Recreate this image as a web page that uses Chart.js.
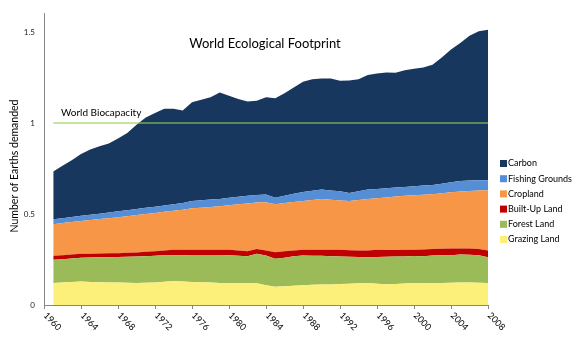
<!DOCTYPE html>
<html>
<head>
<meta charset="utf-8">
<script src="https://cdn.jsdelivr.net/npm/chart.js"></script>
<style>
  body { margin: 0; background: #fff; }
  #wrap { width: 582px; height: 344px; }
</style>
</head>
<body>
<div id="wrap"><canvas id="footprint" width="582" height="344"></canvas></div>
<script>
// years with data (the axis itself starts at 1960)
const years = [1961, 1962, 1963, 1964, 1965, 1966, 1967, 1968, 1969, 1970,
    1971, 1972, 1973, 1974, 1975, 1976, 1977, 1978, 1979, 1980,
    1981, 1982, 1983, 1984, 1985, 1986, 1987, 1988, 1989, 1990,
    1991, 1992, 1993, 1994, 1995, 1996, 1997, 1998, 1999, 2000,
    2001, 2002, 2003, 2004, 2005, 2006, 2007, 2008]
const tickYears = [1960, 1964, 1968, 1972, 1976, 1980, 1984, 1988, 1992, 1996, 2000, 2004, 2008]
const yTicks = [0, 0.5, 1, 1.5]

// number of Earths, per land type
const grazingLand = [.121, .123, .126, .129, .127, .125, .124, .123, .122, .121,
    .122, .124, .128, .130, .129, .127, .125, .123, .121, .121,
    .121, .121, .120, .108, .100, .103, .106, .109, .111, .112,
    .113, .115, .117, .119, .121, .117, .114, .116, .118, .119,
    .120, .121, .121, .122, .123, .123, .122, .121]
const forestLand = [.127, .129, .130, .130, .134, .137, .139, .141, .143, .145,
    .146, .146, .145, .144, .145, .148, .150, .152, .154, .153,
    .150, .147, .161, .164, .154, .157, .162, .163, .160, .158,
    .155, .151, .148, .145, .142, .147, .151, .150, .149, .150,
    .148, .151, .152, .152, .154, .153, .151, .142]
const builtUpLand = [.022, .022, .022, .022, .021, .021, .021, .021, .022, .023,
    .024, .026, .027, .029, .029, .028, .029, .029, .029, .029,
    .028, .027, .027, .028, .036, .035, .032, .032, .033, .034,
    .035, .037, .036, .036, .036, .039, .037, .036, .036, .035,
    .037, .036, .036, .036, .034, .035, .035, .036]
const cropland = [.174, .176, .178, .181, .185, .189, .193, .197, .201, .205,
    .208, .210, .212, .215, .221, .228, .231, .235, .239, .245,
    .254, .263, .255, .265, .263, .265, .266, .267, .273, .279,
    .275, .271, .270, .277, .284, .284, .289, .294, .297, .299,
    .301, .301, .305, .309, .313, .316, .321, .331]
const fishingGrounds = [.027, .027, .028, .028, .029, .030, .031, .033, .033, .033,
    .034, .034, .035, .036, .037, .040, .040, .040, .040, .041,
    .042, .042, .041, .042, .036, .040, .045, .050, .051, .051,
    .051, .051, .045, .048, .051, .051, .050, .049, .049, .049,
    .050, .051, .052, .055, .057, .057, .056, .055]
const carbon = [.263, .288, .311, .340, .359, .370, .380, .400, .424, .463,
    .496, .515, .531, .524, .508, .543, .553, .562, .585, .561,
    .537, .518, .518, .534, .547, .563, .584, .605, .613, .610,
    .616, .607, .618, .615, .630, .634, .636, .631, .641, .646,
    .649, .660, .694, .730, .759, .796, .819, .828]
const worldBiocapacity = 1

const series = [
    { label: 'Grazing Land', values: grazingLand, color: '#fcf07a' },
    { label: 'Forest Land', values: forestLand, color: '#9bbb59' },
    { label: 'Built-Up Land', values: builtUpLand, color: '#c00000' },
    { label: 'Cropland', values: cropland, color: '#f79646' },
    { label: 'Fishing Grounds', values: fishingGrounds, color: '#558ed5' },
    { label: 'Carbon', values: carbon, color: '#17375e' }
]

const font = 'Lato, "Open Sans", sans-serif'

const datasets = series.map((s, i) => ({
    label: s.label,
    data: years.map((yr, j) => ({ x: yr, y: s.values[j] })),
    backgroundColor: s.color,
    borderColor: s.color,
    borderWidth: 0,
    pointRadius: 0,
    fill: i === 0 ? 'origin' : '-1',
    tension: 0
}))

datasets.push({
    label: 'World Biocapacity',
    data: [{ x: years[0], y: worldBiocapacity }, { x: years[years.length - 1], y: worldBiocapacity }],
    stack: 'bio',
    borderColor: 'rgba(146, 208, 80, 0.55)',
    borderWidth: 2,
    pointRadius: 0,
    fill: false,
    order: -1
})

// text that Excel put on the chart: axis labels, title, legend
const overlay = {
    id: 'overlay',
    afterDraw(chart) {
        const ctx = chart.ctx
        const xs = chart.scales.x
        const ys = chart.scales.y
        ctx.save()

        // rotated year labels
        ctx.fillStyle = '#000'
        ctx.font = '9px ' + font
        ctx.textAlign = 'left'
        ctx.textBaseline = 'middle'
        tickYears.forEach(yr => {
            ctx.save()
            ctx.translate(xs.getPixelForValue(yr) + 1, xs.top + 9)
            ctx.rotate(Math.PI / 4)
            ctx.fillText(String(yr), 0, 0)
            ctx.restore()
        })

        // y axis title
        ctx.save()
        ctx.font = '10.5px ' + font
        ctx.textAlign = 'center'
        ctx.translate(15, 166)
        ctx.rotate(-Math.PI / 2)
        ctx.fillText('Number of Earths demanded', 0, 0)
        ctx.restore()

        // chart title and biocapacity label
        ctx.font = '13px ' + font
        ctx.textAlign = 'center'
        ctx.fillText('World Ecological Footprint', 265, 44)
        ctx.font = '10px ' + font
        ctx.textAlign = 'left'
        ctx.fillText('World Biocapacity', 61, ys.getPixelForValue(worldBiocapacity) - 10)

        // legend, top series first
        ctx.font = '9px ' + font
        series.slice().reverse().forEach((s, i) => {
            const cy = 163.5 + i * 15.2
            ctx.fillStyle = s.color
            ctx.fillRect(500, cy - 3.5, 7, 7)
            ctx.fillStyle = '#000'
            ctx.fillText(s.label, 508, cy)
        })
        ctx.restore()
    }
}

new Chart(document.getElementById('footprint'), {
    type: 'line',
    data: { datasets },
    plugins: [overlay],
    options: {
        responsive: false,
        devicePixelRatio: 1,
        animation: false,
        layout: { padding: { top: 11, right: 94, left: 0, bottom: 0 } },
        plugins: {
            legend: { display: false },
            tooltip: { enabled: false }
        },
        scales: {
            x: {
                type: 'linear',
                min: 1960,
                max: 2008,
                afterBuildTicks: scale => { scale.ticks = tickYears.map(v => ({ value: v })) },
                afterFit: scale => { scale.height = 39 },
                ticks: { display: false },
                grid: { drawOnChartArea: false, drawTicks: true, tickLength: 4, color: '#868686' },
                border: { color: '#868686', width: 1 }
            },
            y: {
                stacked: true,
                min: 0,
                max: 1.6,
                afterBuildTicks: scale => { scale.ticks = yTicks.map(v => ({ value: v })) },
                afterFit: scale => { scale.width = 44 },
                ticks: {
                    padding: 9,
                    color: '#222',
                    font: { family: font, size: 8 },
                    callback: v => String(v)
                },
                grid: { display: false, drawTicks: false },
                border: { color: '#868686', width: 1 }
            }
        }
    }
})
</script>
</body>
</html>
